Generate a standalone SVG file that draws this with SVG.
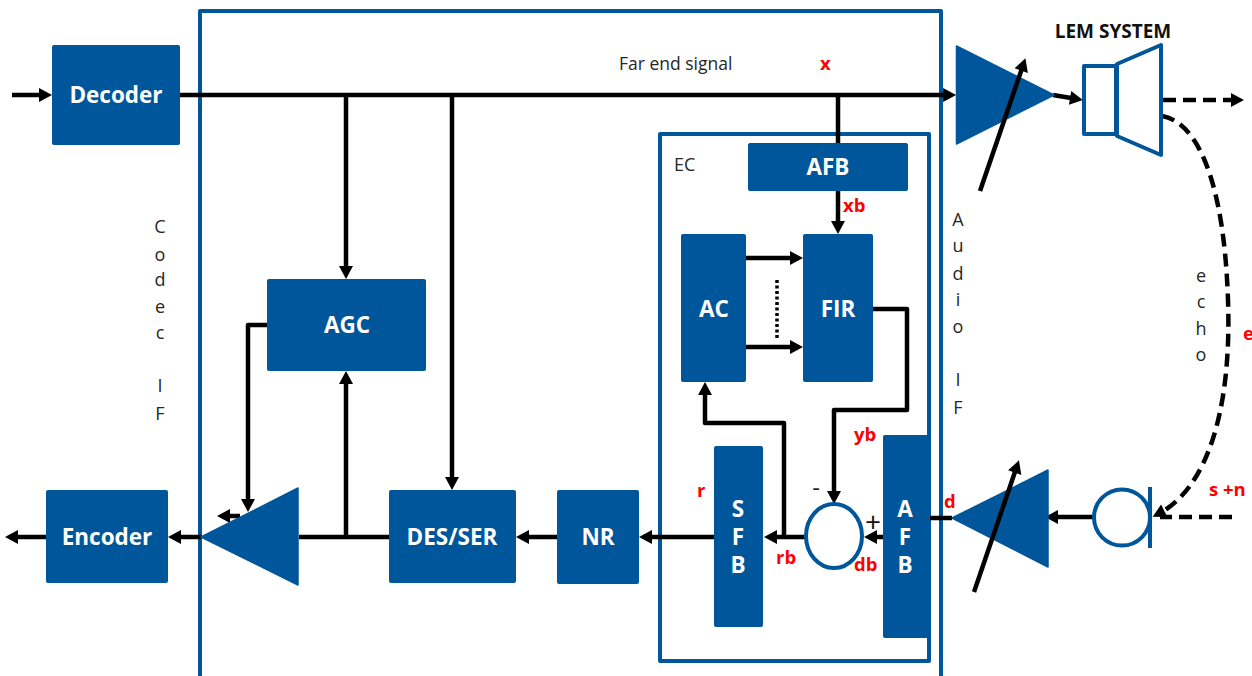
<svg xmlns="http://www.w3.org/2000/svg" width="1252" height="676" viewBox="0 0 1252 676">
<style>
.b{fill:#00569a;rx:2px}
.o{fill:none;stroke:#00569a;stroke-width:4;stroke-linejoin:round}
.f{fill:#fff;stroke:#00569a;stroke-width:4;stroke-linejoin:round}
.tri{fill:#00569a;stroke:#00569a;stroke-width:1.500;stroke-linejoin:round}
.l{fill:none;stroke:#000;stroke-width:4.500;stroke-linejoin:round}
.a{marker-end:url(#h)}
.d{stroke-dasharray:13 7}
.t{font-family:"Open Sans","Noto Sans",sans-serif;font-weight:700;font-size:22.500px;fill:#fff;text-anchor:middle}
.n{font-family:"Open Sans","Noto Sans",sans-serif;font-size:18px;fill:#262626}
.m{text-anchor:middle}
.r{font-family:"Open Sans","Noto Sans",sans-serif;font-weight:700;font-size:18.500px;fill:#f00}
</style>
<defs>
<marker id="h" markerUnits="userSpaceOnUse" markerWidth="16" markerHeight="16" refX="8" refY="8" orient="auto"><path d="M1 1L14 8L1 15Z" fill="#000"/></marker>
</defs>
<g id="frames">
<path class="o" d="M200 676V11H941V676"/>
<rect class="o" x="660" y="134" width="269" height="527"/>
</g>
<g id="connectors">
<path class="l" d="M180 95H950"/>
<path class="l a" d="M12 95H46"/>
<path class="l a" d="M950 95H950.100"/>
<path class="l a" d="M346 95V273"/>
<path class="l a" d="M452 95V484"/>
<path class="l" d="M838 95V143"/>
<path class="l a" d="M838 191V228"/>
<path class="l a" d="M746 258H797"/>
<path class="l a" d="M746 347H797"/>
<path d="M777 280V339" fill="none" stroke="#000" stroke-width="3.500" stroke-dasharray="3 2.500"/>
<path class="l a" d="M873 309H907V410H834V498"/>
<path class="l a" d="M883 537H870"/>
<path class="l a" d="M806 537H770"/>
<path class="l a" d="M784 537V423H705V388"/>
<path class="l a" d="M714 537H645"/>
<path class="l a" d="M557 537H522"/>
<path class="l" d="M389 537H299"/>
<path class="l a" d="M346 537V377"/>
<path class="l a" d="M267 325H248V506"/>
<path class="l a" d="M240 516H223"/>
<path class="l a" d="M201 537H174"/>
<path class="l a" d="M46 537H11"/>
<path class="l" d="M930 518H952"/>
<path class="l a" d="M1094 517H1051"/>
<path class="l a" d="M1053 95L1077 99"/>
<path class="l a d" d="M1163 100H1238"/>
<path class="l a d" d="M1162 116C1197 122 1224 180 1228 300C1232 415 1205 490 1158 514"/>
<path class="l d" d="M1232 517H1160"/>
</g>
<g id="decoder"><rect class="b" x="52" y="45" width="128" height="100"/><text class="t" x="116" y="103">Decoder</text></g>
<g id="encoder"><rect class="b" x="46" y="490" width="122" height="93"/><text class="t" x="107" y="545">Encoder</text></g>
<g id="agc"><rect class="b" x="267" y="279" width="159" height="92"/><text class="t" x="347" y="333">AGC</text></g>
<g id="desser"><rect class="b" x="389" y="490" width="127" height="93"/><text class="t" x="452" y="545">DES/SER</text></g>
<g id="nr"><rect class="b" x="557" y="490" width="82" height="94"/><text class="t" x="598" y="545">NR</text></g>
<g id="afb-top"><rect class="b" x="748" y="143" width="160" height="48"/><text class="t" x="828" y="175">AFB</text></g>
<g id="ac"><rect class="b" x="681" y="234" width="65" height="148"/><text class="t" x="714" y="317">AC</text></g>
<g id="fir"><rect class="b" x="803" y="234" width="70" height="148"/><text class="t" x="838" y="317">FIR</text></g>
<g id="sfb"><rect class="b" x="714" y="446" width="49" height="181"/><text class="t" x="738" y="517">S</text><text class="t" x="738" y="545">F</text><text class="t" x="738" y="573">B</text></g>
<g id="afb-right"><rect class="b" x="883" y="435" width="47" height="203"/><text class="t" x="905" y="517">A</text><text class="t" x="905" y="545">F</text><text class="t" x="905" y="573">B</text></g>
<g id="sum"><ellipse class="f" cx="834" cy="536" rx="28" ry="32"/></g>
<g id="amp-left"><path class="tri" d="M201 537L298 488V585Z"/></g>
<g id="amp-top"><path class="tri" d="M956.500 46V144L1054 95Z"/><path class="l a" d="M980 191L1023.500 64"/></g>
<g id="amp-right"><path class="tri" d="M952 518L1048 470V567Z"/><path class="l a" d="M974 592L1017 466"/></g>
<g id="speaker"><rect class="f" x="1084" y="66" width="32" height="68"/><path class="f" d="M1117 64L1161 45V155L1117 136Z"/></g>
<g id="mic"><circle class="o" cx="1122" cy="517.500" r="28"/><path class="o" stroke-linejoin="miter" d="M1150 487V548"/></g>
<g id="labels">
<text class="n" x="619" y="70" style="font-size:17.500px">Far end signal</text>
<text class="n" x="674" y="171">EC</text>
<text x="1113" y="38" text-anchor="middle" style="font-family:'Open Sans','Noto Sans',sans-serif;font-weight:700;font-size:19px;fill:#111">LEM SYSTEM</text>
<g class="n m">
<text x="160" y="233">C</text><text x="160" y="261">o</text><text x="160" y="286">d</text><text x="160" y="313">e</text><text x="160" y="339">c</text><text x="160" y="392">I</text><text x="160" y="420">F</text>
<text x="958" y="226">A</text><text x="958" y="252">u</text><text x="958" y="280">d</text><text x="958" y="306">i</text><text x="958" y="333">o</text><text x="958" y="386">I</text><text x="958" y="414">F</text>
<text x="1201" y="282">e</text><text x="1201" y="308">c</text><text x="1201" y="335">h</text><text x="1201" y="361">o</text>
<text x="816" y="496" style="font-size:24px">-</text>
<text x="873" y="532" style="font-size:28px;fill:#111">+</text>
</g>
<text class="r" x="820" y="70">x</text>
<text class="r" x="843" y="212">xb</text>
<text class="r" x="1243" y="340">e</text>
<text class="r" x="1209" y="496">s +n</text>
<text class="r" x="944" y="508">d</text>
<text class="r" x="697" y="497">r</text>
<text class="r" x="854" y="441">yb</text>
<text class="r" x="776" y="564">rb</text>
<text class="r" x="854" y="571">db</text>
</g>
</svg>
